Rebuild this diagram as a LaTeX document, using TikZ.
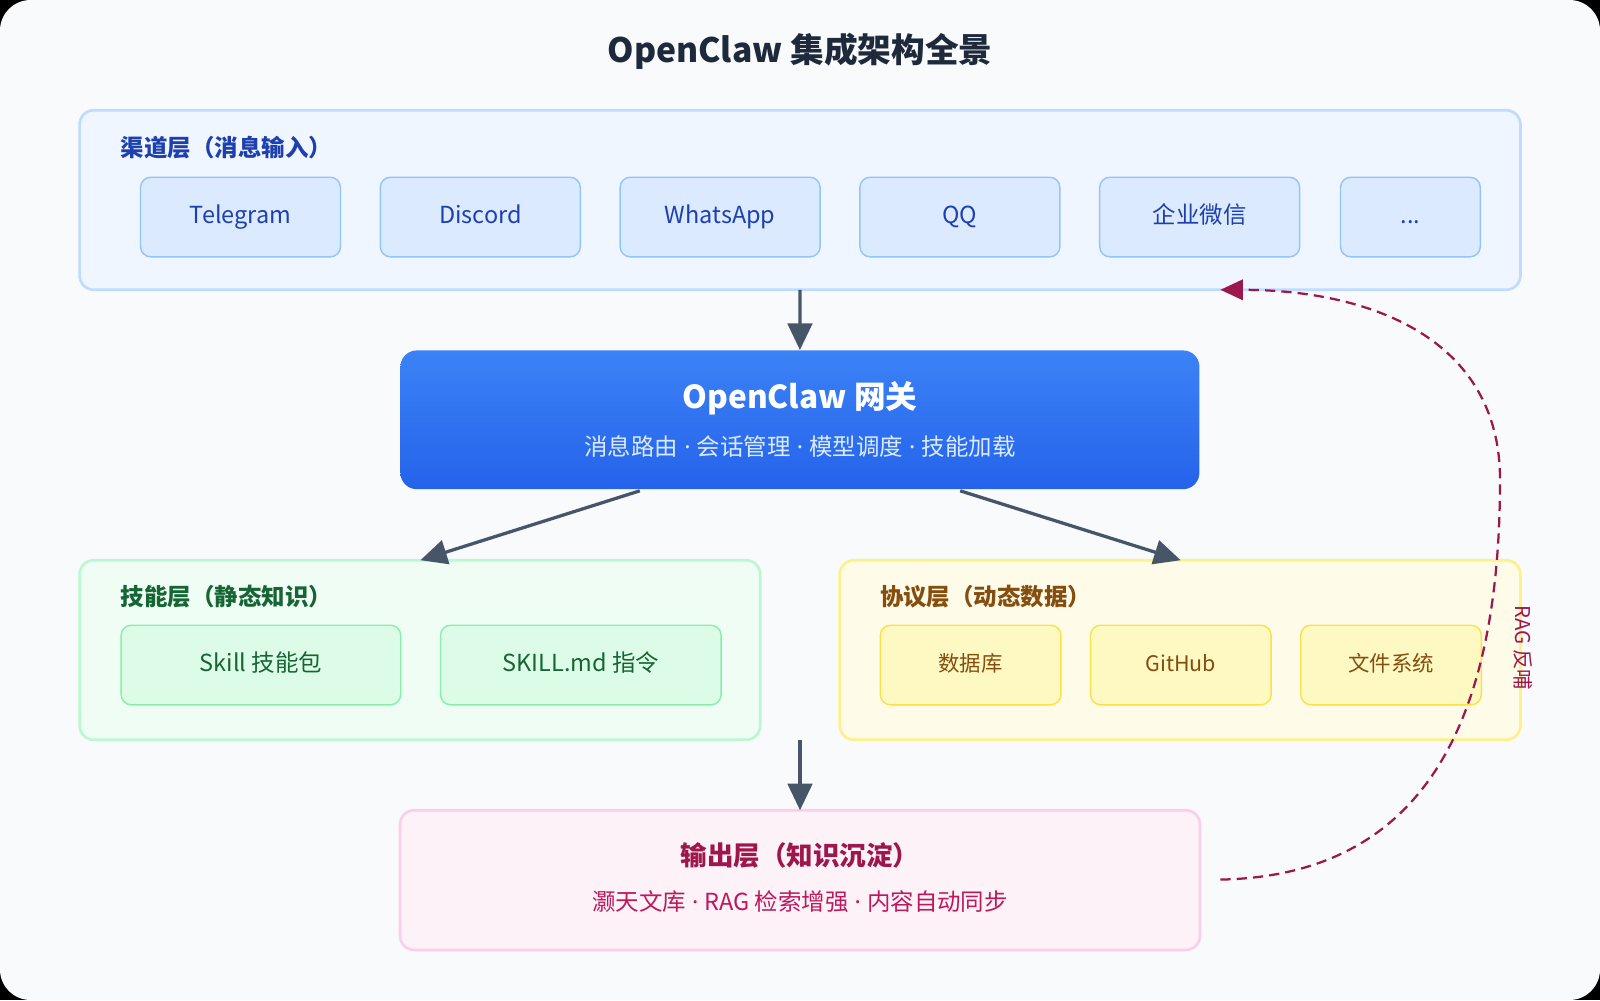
\documentclass[tikz,border=0pt]{standalone}
\usepackage{fontspec}
\setmainfont{Noto Sans CJK SC}
\newfontfamily\latfont{Noto Sans}
\newcommand{\mdot}{{\latfont\ ·\ }}
\usetikzlibrary{arrows.meta,positioning,calc,shadings}
\definecolor{bg}{HTML}{F8FAFC}
\definecolor{ttl}{HTML}{1E293B}
\definecolor{arr}{HTML}{475569}
\definecolor{cfill}{HTML}{EFF6FF}\definecolor{cstr}{HTML}{BFDBFE}\definecolor{cnfill}{HTML}{DBEAFE}\definecolor{cnstr}{HTML}{93C5FD}\definecolor{ctxt}{HTML}{1E40AF}
\definecolor{sfill}{HTML}{F0FDF4}\definecolor{sstr}{HTML}{BBF7D0}\definecolor{snfill}{HTML}{DCFCE7}\definecolor{snstr}{HTML}{86EFAC}\definecolor{stxt}{HTML}{166534}
\definecolor{pfill}{HTML}{FEFCE8}\definecolor{pstr}{HTML}{FEF08A}\definecolor{pnfill}{HTML}{FEF9C3}\definecolor{pnstr}{HTML}{FDE047}\definecolor{ptxt}{HTML}{854D0E}
\definecolor{ofill}{HTML}{FDF2F8}\definecolor{ostr}{HTML}{FBCFE8}\definecolor{otxt}{HTML}{9D174D}\definecolor{osub}{HTML}{BE185D}
\definecolor{gtop}{HTML}{3B82F6}\definecolor{gbot}{HTML}{2563EB}\definecolor{gsub}{HTML}{DBEAFE}
\begin{document}
\begin{tikzpicture}[x=0.5pt,y=-0.5pt,
  layer/.style={draw=#1,line width=1.3pt,rounded corners=7pt},
  box/.style={rounded corners=5pt,line width=0.7pt,anchor=north west,inner sep=0pt,text height=8.5pt,text depth=2.5pt},
  lbl/.style={anchor=west,inner sep=0pt,font=\fontsize{11.5}{13}\selectfont\bfseries},
  flow/.style={draw=arr,line width=1.6pt,-{Triangle[length=13pt,width=12pt]}}]
\fill[black] (0,0) rectangle (1568,980);
\fill[bg,rounded corners=15pt] (0,0) rectangle (1568,980);
\useasboundingbox (0,0) rectangle (1568,980);
\node[font=\fontsize{16.5}{19}\selectfont\bfseries,text=ttl] (title) at (784,50) {OpenClaw 集成架构全景};
% channel layer
\draw[layer=cstr,fill=cfill] (78,108) rectangle (1490,284);
\coordinate (chS) at (784,284);
\node[lbl,text=ctxt] (chl) at (118,145) {渠道层（消息输入）};
\foreach \n/\x/\w/\t in {c1/137/196/Telegram,c2/372/196/Discord,c3/607/196/WhatsApp,c4/842/196/QQ,c5/1077/196/企业微信,c6/1313/137/{...}}{
  \node[box,draw=cnstr,fill=cnfill,text=ctxt,minimum width=\w*0.5pt,minimum height=39pt,font=\fontsize{11.5}{13}\selectfont] (\n) at (\x,173) {\t};}
% gateway
\node[anchor=north west,inner sep=0pt,minimum width=391.5pt,minimum height=68pt,rounded corners=8pt,top color=gtop,bottom color=gbot] (gw) at (392,343) {};
\node[text=white,font=\fontsize{15.5}{18}\selectfont\bfseries] (gwt) at (784,390) {OpenClaw 网关};
\node[text=gsub,font=\fontsize{11.5}{13}\selectfont] (gws) at (784,438) {消息路由\mdot 会话管理\mdot 模型调度\mdot 技能加载};
\draw[flow] (chS) -- (gw.north);
% skill layer
\draw[layer=sstr,fill=sfill] (78,549) rectangle (745,725);
\node[lbl,text=stxt] (skl) at (118,585) {技能层（静态知识）};
\node[box,draw=snstr,fill=snfill,text=stxt,minimum width=137pt,minimum height=39pt,font=\fontsize{11.5}{13}\selectfont] (s1) at (118,612) {Skill 技能包};
\node[box,draw=snstr,fill=snfill,text=stxt,minimum width=137.5pt,minimum height=39pt,font=\fontsize{11.5}{13}\selectfont] (s2) at (431,612) {SKILL.md 指令};
% protocol layer
\draw[layer=pstr,fill=pfill] (823,549) rectangle (1490,725);
\node[lbl,text=ptxt] (prl) at (862,585) {协议层（动态数据）};
\foreach \n/\x/\t in {p1/862/数据库,p2/1068/GitHub,p3/1274/文件系统}{
  \node[box,draw=pnstr,fill=pnfill,text=ptxt,minimum width=88.5pt,minimum height=39pt,font=\fontsize{10.5}{12}\selectfont] (\n) at (\x,612) {\t};}
% gateway to layers
\coordinate (ga) at (627,481); \coordinate (gb) at (941,481);
\coordinate (ska) at (412,549); \coordinate (pra) at (1157,549);
\draw[flow] (ga) -- (ska);
\draw[flow] (gb) -- (pra);
% output
\draw[layer=ostr,fill=ofill] (392,794) rectangle (1176,931);
\coordinate (mid) at (784,725); \coordinate (outN) at (784,794);
\draw[flow] (mid) -- (outN);
\node[text=otxt,font=\fontsize{13}{15}\selectfont\bfseries] (ot) at (784,838) {输出层（知识沉淀）};
\node[text=osub,font=\fontsize{11.5}{13}\selectfont] (os) at (784,884) {灏天文库\mdot RAG 检索增强\mdot 内容自动同步};
% feedback
\coordinate (fbS) at (1196,862); \coordinate (fbE) at (1196,284);
\draw[otxt,line width=1.1pt,dash pattern=on 5pt off 3pt,-{Triangle[length=11pt,width=10pt]}]
  (fbS) .. controls (1400,858) and (1470,700) .. (1470,470) .. controls (1470,330) and (1340,284) .. (fbE);
\node[text=otxt,rotate=-90,font=\fontsize{10}{12}\selectfont] (rag) at (1493,635) {RAG 反哺};
\end{tikzpicture}
\end{document}
